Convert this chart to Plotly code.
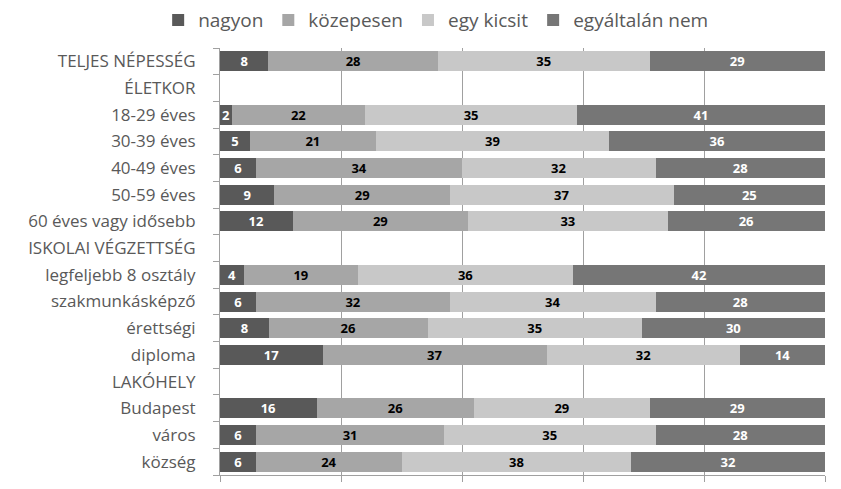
import plotly.graph_objects as go

categories = ["TELJES NÉPESSÉG", "ÉLETKOR", "18-29 éves", "30-39 éves", "40-49 éves",
              "50-59 éves", "60 éves vagy idősebb", "ISKOLAI VÉGZETTSÉG",
              "legfeljebb 8 osztály", "szakmunkásképző", "érettségi", "diploma",
              "LAKÓHELY", "Budapest", "város", "község"]
# None = header rows with no bar
nagyon = [8, None, 2, 5, 6, 9, 12, None, 4, 6, 8, 17, None, 16, 6, 6]
kozepesen = [28, None, 22, 21, 34, 29, 29, None, 19, 32, 26, 37, None, 26, 31, 24]
egy_kicsit = [35, None, 35, 39, 32, 37, 33, None, 36, 34, 35, 32, None, 29, 35, 38]
egyaltalan_nem = [29, None, 41, 36, 28, 25, 26, None, 42, 28, 30, 14, None, 29, 28, 32]

series = [
    ("nagyon", nagyon, "#595959", "white"),
    ("közepesen", kozepesen, "#a6a6a6", "black"),
    ("egy kicsit", egy_kicsit, "#c8c8c8", "black"),
    ("egyáltalán nem", egyaltalan_nem, "#767676", "white"),
]

fig = go.Figure()
for name, vals, color, tcolor in series:
    fig.add_trace(go.Bar(
        y=categories, x=vals, name=name, orientation="h",
        marker=dict(color=color, line=dict(width=0)),
        text=[("" if v is None else str(v)) for v in vals],
        textposition="inside", insidetextanchor="middle", textangle=0,
        constraintext="none",
        textfont=dict(family="Open Sans", size=13, color=tcolor, weight="bold"),
        hoverinfo="skip",
    ))

# invisible numeric trace on a second y axis, only to draw boundary tick marks
fig.add_trace(go.Scatter(x=[0], y=[0], yaxis="y2", mode="markers",
                         marker=dict(opacity=0), showlegend=False, hoverinfo="skip"))

n = len(categories)
# the html page has an 8px body margin, so the figure is 8px smaller than the window
fig.update_layout(
    width=833, height=481,
    margin=dict(l=212, r=16, t=40, b=14),
    barmode="stack", barnorm="percent", bargap=0.25,
    plot_bgcolor="white", paper_bgcolor="white",
    font=dict(family="Open Sans", color="#595959"),
    legend=dict(orientation="h", x=0.514, xanchor="center", xref="container",
                y=0.975, yanchor="middle", yref="container",
                font=dict(size=19, color="#595959"),
                itemwidth=30, traceorder="normal"),
    xaxis=dict(range=[0, 100], dtick=20, showticklabels=False, showgrid=True,
               gridcolor="#a0a0a0", gridwidth=1, showline=True, linecolor="#a0a0a0",
               ticks="outside", ticklen=6, tickcolor="#a0a0a0", zeroline=False,
               automargin=False),
    yaxis=dict(autorange="reversed", type="category", showline=True,
               linecolor="#a0a0a0", ticks="", tickfont=dict(size=17, color="#595959"),
               ticklabelstandoff=20, automargin=False),
    yaxis2=dict(overlaying="y", range=[n - 0.5, -0.5], showticklabels=False,
                tickvals=[i - 0.5 for i in range(n + 1)], ticks="outside", ticklen=6,
                tickcolor="#a0a0a0", showgrid=False, zeroline=False, side="left",
                automargin=False),
)

fig.write_html("out.html")
